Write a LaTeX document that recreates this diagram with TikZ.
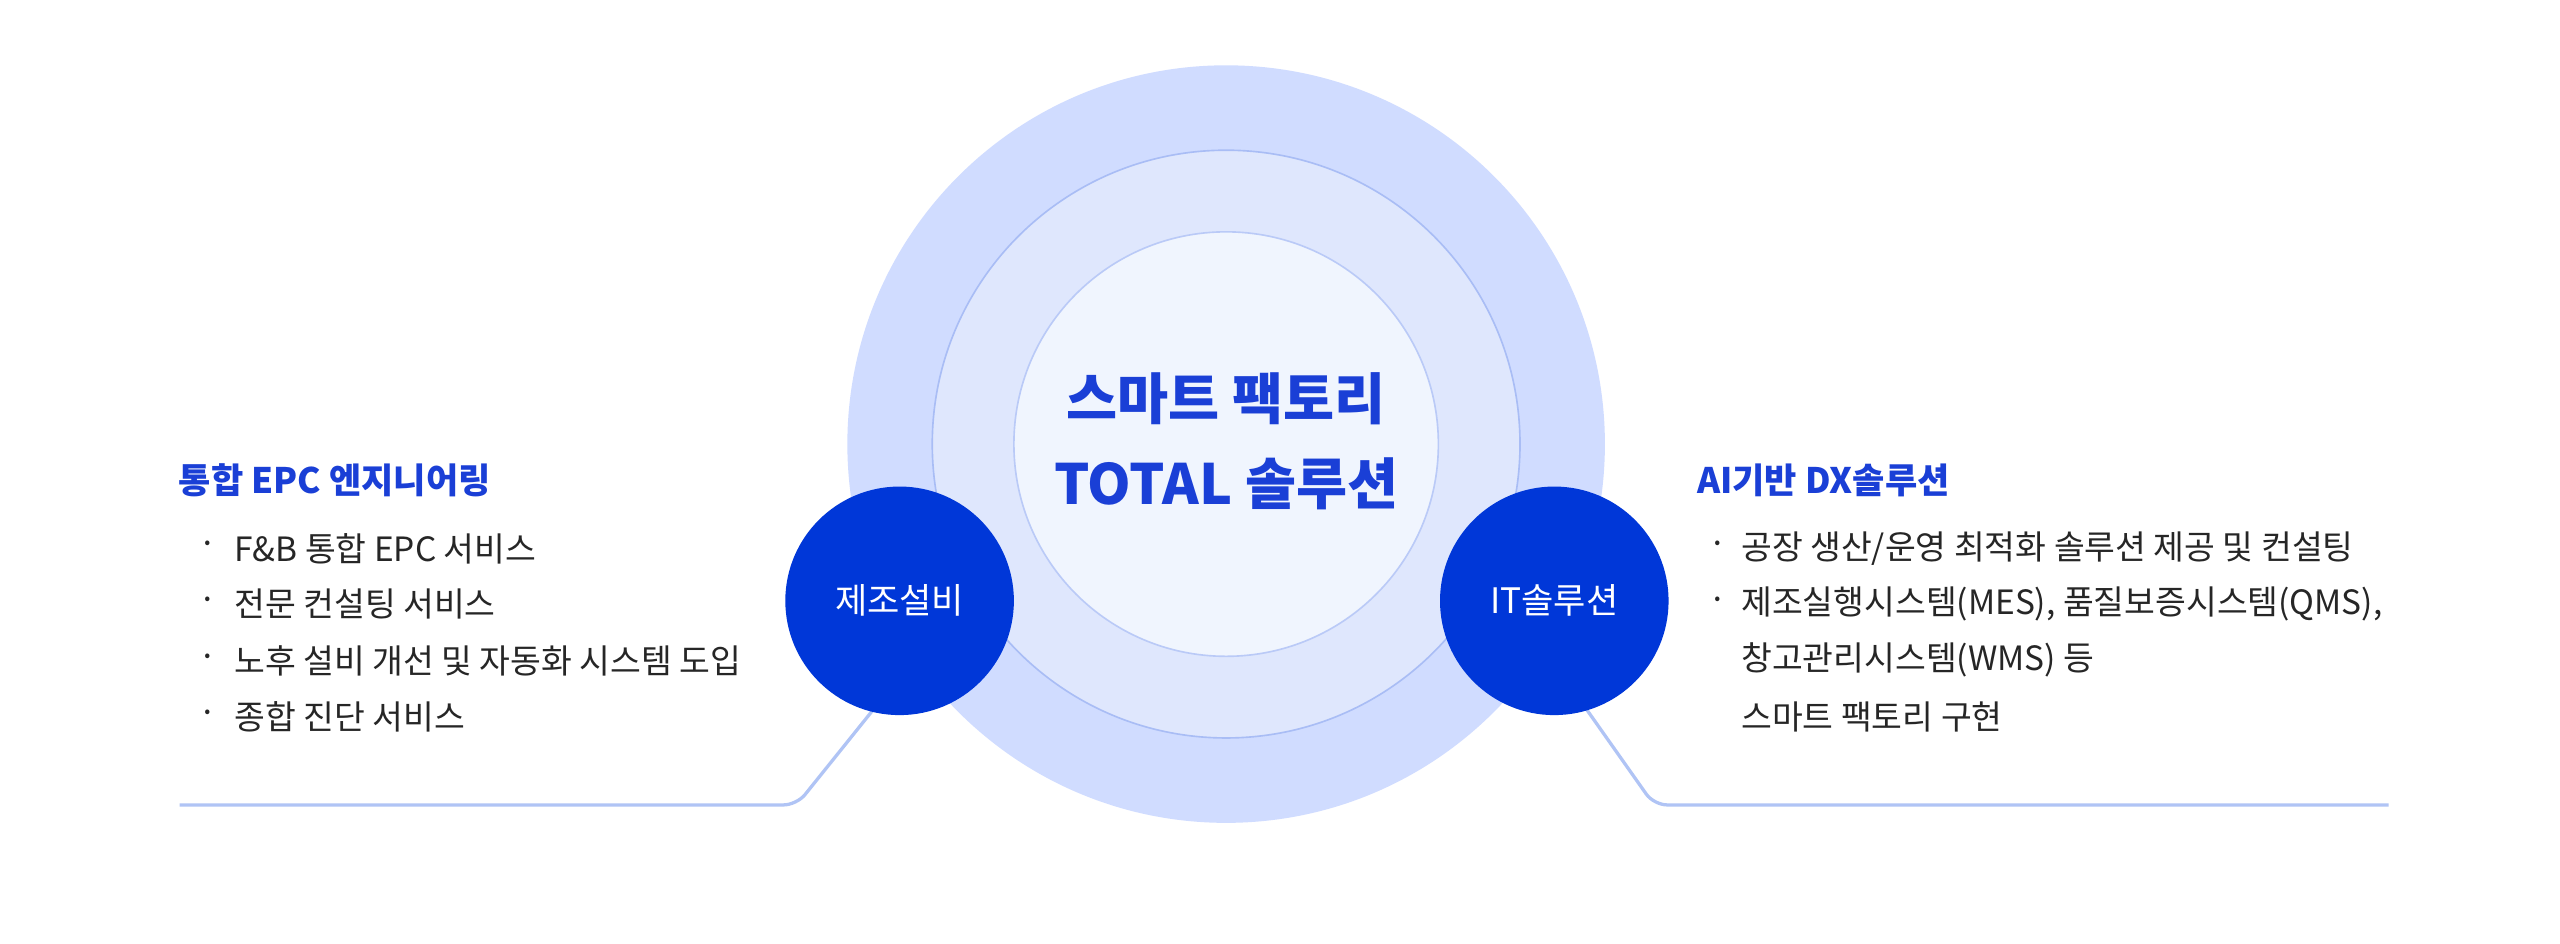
\documentclass[tikz,border=0pt]{standalone}
\usepackage{fontspec}
\setmainfont{Noto Sans CJK KR}
\begin{document}
\begin{tikzpicture}[x=1pt,y=-1pt,
  bul/.style={anchor=west,font=\fontsize{20.5}{24}\selectfont,text=black!85},
  head/.style={anchor=west,font=\fontsize{21.5}{26}\selectfont\bfseries,text=blue1},
  small/.style={circle,fill=blue2,minimum size=140pt,inner sep=0pt,text=white,font=\fontsize{21.5}{26}\selectfont},
  conn/.style={draw=lineb,line width=2pt,rounded corners=8pt}]
\definecolor{blue1}{HTML}{1A3FD6}
\definecolor{blue2}{HTML}{0037D8}
\definecolor{c1}{HTML}{D0DCFF}
\definecolor{c2}{HTML}{DFE7FD}
\definecolor{c3}{HTML}{F0F5FE}
\definecolor{bd}{HTML}{A9BDF5}
\definecolor{lineb}{HTML}{B0C4F5}
\useasboundingbox (0,0) rectangle (1568,578);
\fill[white] (0,0) rectangle (1568,578);
\node[circle,fill=c1,minimum size=464pt,inner sep=0pt] (outer) at (751,272) {};
\node[circle,fill=c2,draw=bd,line width=1pt,minimum size=360pt,inner sep=0pt] (mid) at (751,272) {};
\node[circle,fill=c3,draw=bd!80,line width=1pt,minimum size=260pt,inner sep=0pt] (inner) at (751,272) {};
\node[text=blue1,font=\fontsize{34}{52}\selectfont\bfseries,align=center] (title) at (751,270) {스마트 팩토리\\TOTAL 솔루션};
\coordinate (l1) at (110,493); \coordinate (l2) at (488,493);
\coordinate (r1) at (1463,493); \coordinate (r2) at (1013,493);
\draw[conn] (l1) -- (l2) -- (537,432);
\draw[conn] (r1) -- (r2) -- (970,432);
\node[small] (left) at (551,368) {제조설비};
\node[small] (right) at (952,368) {IT솔루션};
\node[head] (lh) at (106,294) {통합 EPC 엔지니어링};
\foreach \t/\y [count=\i] in {F\&B 통합 EPC 서비스/336, 전문 컨설팅 서비스/370, 노후 설비 개선 및 자동화 시스템 도입/405, 종합 진단 서비스/439}{
  \node[bul] (ld\i) at (118,\y) {·};
  \node[bul] (lt\i) at (140,\y) {\t};
}
\node[head] (rh) at (1036,294) {AI기반 DX솔루션};
\node[bul] (rd1) at (1043,336) {·};
\node[bul] (rt1) at (1063,336) {공장 생산/운영 최적화 솔루션 제공 및 컨설팅};
\node[bul] (rd2) at (1043,370) {·};
\node[bul] (rt2) at (1063,370) {제조실행시스템(MES), 품질보증시스템(QMS),};
\node[bul] (rt3) at (1063,404) {창고관리시스템(WMS) 등};
\node[bul] (rt4) at (1063,439) {스마트 팩토리 구현};
\end{tikzpicture}
\end{document}
